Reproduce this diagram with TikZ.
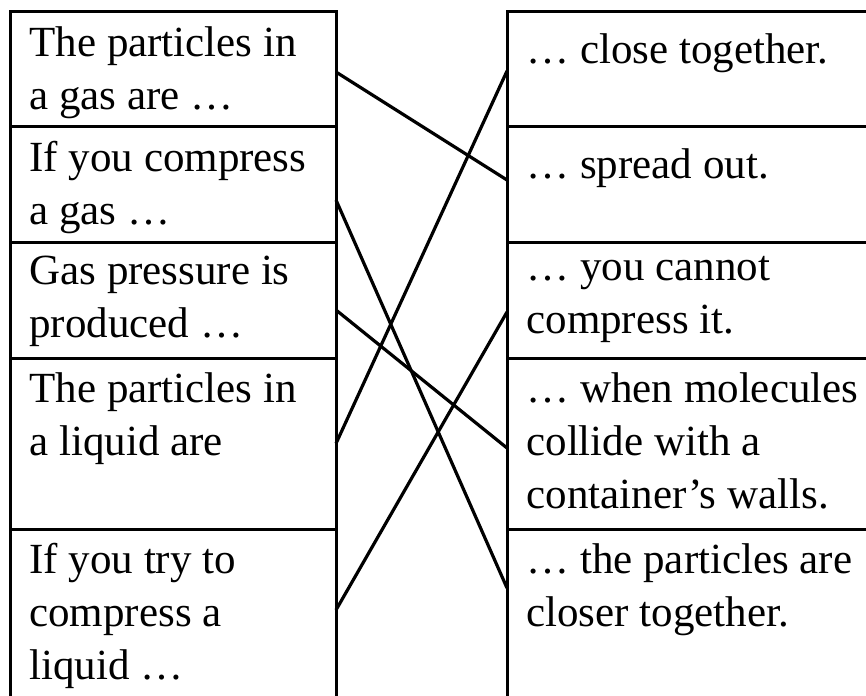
\documentclass[tikz,border=0pt]{standalone}
\usepackage{fontspec}
\setmainfont{Liberation Serif}
\usetikzlibrary{positioning}

\begin{document}
\begin{tikzpicture}[x=0.5pt, y=-0.5pt,
    box/.style={draw, line width=1.5pt, outer sep=0pt, inner sep=0pt, anchor=north west},
    lbox/.style={box, minimum width=163pt},
    rbox/.style={box, minimum width=190pt},
    txt/.style={anchor=north west, inner xsep=9.5pt, inner ysep=0pt, yshift=-7pt, align=left,
        font=\fontsize{21.5}{26.5}\selectfont, execute at begin node=\strut},
    link/.style={line width=1.6pt}]
    \useasboundingbox (0,0) rectangle (866,695);
    \clip (0,0) rectangle (866,695);

    % linke Spalte
    \node[lbox, minimum height=57.5pt] (l1) at (10,12) {};
    \node[lbox, minimum height=57.5pt, below=0pt of l1] (l2) {};
    \node[lbox, minimum height=58pt, below=0pt of l2] (l3) {};
    \node[lbox, minimum height=85.5pt, below=0pt of l3] (l4) {};
    \node[lbox, minimum height=90pt, below=0pt of l4] (l5) {};

    \node[txt] (tl1) at (l1.north west) {The particles in\\a gas are …};
    \node[txt] (tl2) at (l2.north west) {If you compress\\a gas …};
    \node[txt] (tl3) at (l3.north west) {Gas pressure is\\produced …};
    \node[txt] (tl4) at (l4.north west) {The particles in\\a liquid are};
    \node[txt] (tl5) at (l5.north west) {If you try to\\compress a\\liquid …};

    % rechte Spalte
    \node[rbox, minimum height=57.5pt] (r1) at (507,12) {};
    \node[rbox, minimum height=57.5pt, below=0pt of r1] (r2) {};
    \node[rbox, minimum height=58pt, below=0pt of r2] (r3) {};
    \node[rbox, minimum height=85.5pt, below=0pt of r3] (r4) {};
    \node[rbox, minimum height=90pt, below=0pt of r4] (r5) {};

    \node[txt] (tr1) at (r1.north west) {… close together.};
    \node[txt] (tr2) at (r2.north west) {… spread out.};
    \node[txt] (tr3) at (r3.north west) {… you cannot\\compress it.};
    \node[txt] (tr4) at (r4.north west) {… when molecules\\collide with a\\container’s walls.};
    \node[txt] (tr5) at (r5.north west) {… the particles are\\closer together.};

    % Zuordnungslinien
    \draw[link] ([yshift=-1.25pt]l1.east) -- ([yshift=2.25pt]r2.west);
    \draw[link] (l4.east) -- ([yshift=-0.75pt]r1.west);
    \draw[link] ([yshift=-7.75pt]l2.east) -- ([yshift=15.5pt]r5.west);
    \draw[link] ([yshift=-5pt]l3.east) -- ([yshift=-2.25pt]r4.west);
    \draw[link] ([yshift=4.5pt]l5.east) -- ([yshift=-6pt]r3.west);
\end{tikzpicture}
\end{document}
